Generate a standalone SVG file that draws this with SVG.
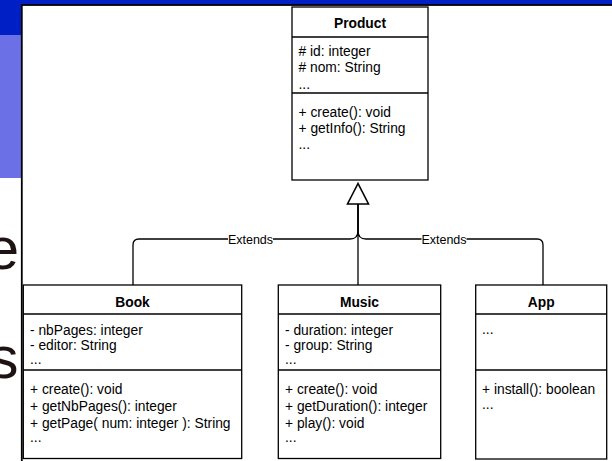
<svg xmlns="http://www.w3.org/2000/svg" width="612" height="461" viewBox="0 0 612 461">
<style>
.bx{fill:#fff;stroke:#000;stroke-width:1.3}
.ln{stroke:#000;stroke-width:1.3;fill:none}
.t{font-family:"Liberation Sans",Arial,Helvetica,sans-serif;font-size:13.8px;fill:#000}
.h{font-family:"Liberation Sans",Arial,Helvetica,sans-serif;font-size:13.8px;font-weight:bold;fill:#000;text-anchor:middle}
.lbl{font-family:"Liberation Sans",Arial,Helvetica,sans-serif;font-size:12.5px;fill:#000;text-anchor:middle}
.big{font-family:"Liberation Sans",Arial,Helvetica,sans-serif;font-size:60px;fill:#1f1212;text-anchor:end}
.edge{stroke:#000;stroke-width:1.3;fill:none}
</style>
<rect x="0" y="0" width="612" height="461" fill="#fff"/>
<rect x="0" y="0" width="612" height="5" fill="#0020c6"/>
<rect x="0" y="0" width="22" height="35" fill="#0020c6"/>
<rect x="0" y="35" width="22" height="143" fill="#6b70e6"/>
<text class="big" x="19" y="269">e</text>
<text class="big" x="18.5" y="378">s</text>
<rect x="21.8" y="5" width="600" height="470" fill="#fff" stroke="#000" stroke-width="1.8"/>

<g id="connectors">
<path class="edge" d="M133,285 V245 Q133,239 139,239 H350 Q358,239 358,231 V204"/>
<path class="edge" d="M543,285 V245 Q543,239 537,239 H366 Q358,239 358,231 V204"/>
<path class="edge" d="M358,285 V204"/>
<polygon points="358,183.5 347.5,204 368.5,204" fill="#fff" stroke="#000" stroke-width="1.6"/>
<rect x="228" y="232" width="45" height="14" fill="#fff"/>
<text class="lbl" x="250.5" y="243.5">Extends</text>
<rect x="421.5" y="232" width="45" height="14" fill="#fff"/>
<text class="lbl" x="444" y="243.5">Extends</text>
</g>

<g id="product">
<rect class="bx" x="292" y="7" width="136" height="173"/>
<line class="ln" x1="292" y1="37" x2="428" y2="37"/>
<line class="ln" x1="292" y1="93" x2="428" y2="93"/>
<text class="h" x="360" y="28.3">Product</text>
<text class="t" x="298.5" y="55.5"># id: integer</text>
<text class="t" x="298.5" y="72"># nom: String</text>
<text class="t" x="298.5" y="88.5">...</text>
<text class="t" x="298.5" y="116.5">+ create(): void</text>
<text class="t" x="298.5" y="133">+ getInfo(): String</text>
<text class="t" x="298.5" y="148.5">...</text>
</g>

<g id="book">
<rect class="bx" x="23.3" y="285" width="218.4" height="173.5"/>
<line class="ln" x1="23.3" y1="314" x2="241.7" y2="314"/>
<line class="ln" x1="23.3" y1="370" x2="241.7" y2="370"/>
<text class="h" x="132.5" y="306.7">Book</text>
<text class="t" x="30" y="334.5">- nbPages: integer</text>
<text class="t" x="30" y="350">- editor: String</text>
<text class="t" x="30" y="364">...</text>
<text class="t" x="30" y="393.5">+ create(): void</text>
<text class="t" x="30" y="410.8">+ getNbPages(): integer</text>
<text class="t" x="30" y="427.5">+ getPage( num: integer ): String</text>
<text class="t" x="30" y="442">...</text>
</g>

<g id="music">
<rect class="bx" x="278.3" y="285" width="162.4" height="173.5"/>
<line class="ln" x1="278.3" y1="314" x2="440.7" y2="314"/>
<line class="ln" x1="278.3" y1="370" x2="440.7" y2="370"/>
<text class="h" x="359.5" y="306.7">Music</text>
<text class="t" x="285" y="334.5">- duration: integer</text>
<text class="t" x="285" y="350">- group: String</text>
<text class="t" x="285" y="364">...</text>
<text class="t" x="285" y="393.5">+ create(): void</text>
<text class="t" x="285" y="410.8">+ getDuration(): integer</text>
<text class="t" x="285" y="427.5">+ play(): void</text>
<text class="t" x="285" y="442">...</text>
</g>

<g id="app">
<rect class="bx" x="475.7" y="285" width="131" height="174"/>
<line class="ln" x1="475.7" y1="314" x2="606.7" y2="314"/>
<line class="ln" x1="475.7" y1="370" x2="606.7" y2="370"/>
<text class="h" x="541.2" y="306.7">App</text>
<text class="t" x="482" y="334">...</text>
<text class="t" x="482" y="394">+ install(): boolean</text>
<text class="t" x="482" y="408.5">...</text>
</g>
</svg>
